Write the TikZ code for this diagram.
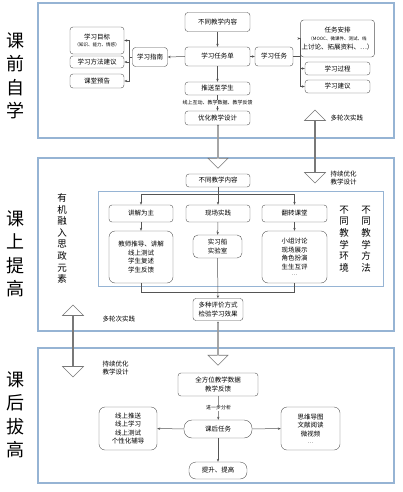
\documentclass[tikz,border=0pt]{standalone}
\usepackage{fontspec}
\setmainfont{Noto Sans CJK SC}
\usetikzlibrary{arrows.meta, positioning, shapes.arrows, calc}
\definecolor{PanelBlue}{RGB}{150, 180, 212}
\definecolor{BoxGray}{RGB}{85, 85, 85}
\definecolor{HollowGray}{RGB}{120, 120, 120}
\tikzset{
  box/.style={rectangle, rounded corners=3pt, draw=BoxGray, fill=white,
              minimum width=#1, minimum height=13pt, inner sep=1pt,
              font=\fontsize{6.5}{8.6}\selectfont, text=black, align=center},
  box/.default=64pt,
  panel/.style={draw=PanelBlue, line width=1.3pt},
  inpanel/.style={draw=PanelBlue, line width=1pt},
  arr/.style={-{Stealth[length=3pt, width=2.4pt]}, line width=0.5pt, color=BoxGray},
  link/.style={line width=0.5pt, color=BoxGray},
  hollow/.style={single arrow, draw=HollowGray, fill=white, line width=0.6pt,
                 minimum width=20pt, single arrow head extend=5pt,
                 single arrow head indent=0pt, inner sep=0pt,
                 shape border rotate=270, minimum height=#1},
  dhollow/.style={double arrow, draw=HollowGray, fill=white, line width=0.6pt,
                  minimum width=21pt, double arrow head extend=5.5pt,
                  inner sep=0pt, shape border rotate=90, minimum height=#1},
  biglabel/.style={font=\fontsize{18}{23.5}\selectfont, align=center, text=black},
  vlabel/.style={font=\fontsize{9.5}{11.6}\selectfont, align=center, text=black},
  note/.style={font=\fontsize{6.5}{8.5}\selectfont, align=center, text=black},
  tinynote/.style={font=\fontsize{5}{6}\selectfont, fill=white, inner sep=0.5pt, text=black},
}
\begin{document}
\begin{tikzpicture}[x=1pt, y=-1pt]
  \useasboundingbox (0,0) rectangle (403,492);

  % Panels
  \draw[panel] (38,3) rectangle (394,138);
  \draw[panel] (38,158) rectangle (394,331);
  \draw[inpanel] (98,191) rectangle (383,286);
  \draw[panel] (38,348) rectangle (394,483);

  % Stage labels
  \node[biglabel] (pre) at (15,76) {课\\前\\自\\学};
  \node[biglabel] (inclass) at (15,254) {课\\上\\提\\高};
  \node[biglabel] (post) at (15,415) {课\\后\\拔\\高};

  % Before class
  \node[box=54pt, minimum height=27pt] (goal) at (97,40.5)
        {学习目标\\[-1pt]\fontsize{4.5}{6}\selectfont （知识、能力、情感）};
  \node[box=54pt, minimum height=12pt] (method) at (97,62) {学习方法建议};
  \node[box=54pt, minimum height=14pt] (preview) at (97,81) {课堂预告};
  \node[box=35pt, minimum height=19pt] (guide) at (150,57) {学习指南};

  \node[box=65pt, minimum height=19pt] (topic) at (217.5,22) {不同教学内容};
  \node[box=65pt, minimum height=19pt] (sheet) at (217.5,56.5) {学习任务单};
  \node[box=65pt, minimum height=13pt] (push) at (217.5,88.5) {推送至学生};
  \node[tinynote] (feed) at (217.5,103) {线上互动、教学数据、教学反馈};
  \node[box=65pt, minimum height=14pt] (design) at (217.5,118) {优化教学设计};

  \node[box=38pt, minimum height=19pt] (task) at (274,56.5) {学习任务};
  \node[box=65pt, minimum height=37pt] (plan) at (337.5,38.5)
        {任务安排\\[-1pt]\fontsize{4.5}{6.5}\selectfont （MOOC、微课件、测试、线\\上讨论、拓展资料、…）};
  \node[box=65pt] (process) at (337.5,68.5) {学习过程};
  \node[box=65pt] (advice) at (337.5,86.5) {学习建议};

  \draw[arr] (guide.west) -- ++(-3.5,0) |- (goal.east);
  \draw[arr] (guide.west) -- ++(-3.5,0) |- (method.east);
  \draw[arr] (guide.west) -- ++(-3.5,0) |- (preview.east);
  \draw[arr] (sheet.west) -- (guide.east);
  \draw[arr] (sheet.east) -- (task.west);
  \draw[arr] (task.east) -- ++(7,0) |- (plan.west);
  \draw[arr] (task.east) -- ++(7,0) |- (process.west);
  \draw[arr] (task.east) -- ++(7,0) |- (advice.west);
  \draw[arr] (topic) -- (sheet);
  \draw[arr] (sheet) -- (push);
  \draw[link] (push) -- (feed);
  \draw[arr] (feed) -- (design);

  % Between before class and in class
  \node[hollow=43pt] (down1) at (218,146.5) {};
  \node[dhollow=73pt] (loop1) at (315,146.5) {};
  \node[note, anchor=west] (rounds1) at (327,118) {多轮次实践};
  \node[note, anchor=west] (optim1) at (327,178) {持续优化\\教学设计};

  % In class
  \node[box=64pt] (topic2) at (218,180.5) {不同教学内容};
  \node[box=64pt, minimum height=17pt] (lecture) at (141,213.5) {讲解为主};
  \node[box=64pt, minimum height=17pt] (field) at (218,213.5) {现场实践};
  \node[box=65pt, minimum height=17pt] (flip) at (294.5,213.5) {翻转课堂};
  \node[box=64pt, minimum height=52pt, rounded corners=6pt] (lecbody) at (141,257)
        {教师推导、讲解\\线上测试\\学生复述\\学生反馈};
  \node[box=49pt, minimum height=23pt, rounded corners=5pt] (fieldbody) at (217.5,246.5)
        {实习船\\实验室};
  \node[box=65pt, minimum height=52pt, rounded corners=6pt] (flipbody) at (294.5,257)
        {小组讨论\\现场展示\\角色扮演\\生生互评\\[-2pt]{\fontsize{5}{5}\selectfont …}};
  \node[box=50pt, minimum height=22pt] (eval) at (218,309.5) {多种评价方式\\检验学习效果};

  \node[vlabel] (ideo) at (62,238.5) {有\\机\\融\\入\\思\\政\\元\\素};
  \node[vlabel] (envs) at (344,239) {不\\同\\教\\学\\环\\境};
  \node[vlabel] (ways) at (366,239) {不\\同\\教\\学\\方\\法};

  \draw[arr] (topic2) -- (field);
  \draw[arr] (topic2.south) -- ++(0,7.5) -| (lecture.north);
  \draw[arr] (topic2.south) -- ++(0,7.5) -| (flip.north);
  \draw[arr] (lecture) -- (lecbody);
  \draw[arr] (field) -- (fieldbody);
  \draw[arr] (flip) -- (flipbody);
  \draw[link] (lecbody.south) -- ++(0,9) -| (flipbody.south);
  \draw[arr] (fieldbody) -- (eval);

  % Between in class and after class
  \node[hollow=43pt] (down2) at (218,343.5) {};
  \node[dhollow=72pt] (loop2) at (73,341) {};
  \node[note, anchor=west] (rounds2) at (99,319) {多轮次实践};
  \node[note, anchor=west] (optim2) at (99,368) {持续优化\\教学设计};

  % After class
  \node[box=80pt, minimum height=23pt] (data) at (218,384.5) {全方位教学数据\\教学反馈};
  \node[tinynote] (deeper) at (218.5,408) {进一步分析};
  \node[box=68pt, minimum height=18pt, rounded corners=8pt] (after) at (218,429) {课后任务};
  \node[box=58pt, minimum height=43pt, rounded corners=6pt] (online) at (128,428.5)
        {线上推送\\线上学习\\线上测试\\个性化辅导};
  \node[box=59pt, minimum height=43pt, rounded corners=6pt] (mind) at (310.5,428.5)
        {思维导图\\文献阅读\\微视频\\[-2pt]{\fontsize{5}{5}\selectfont …}};
  \node[box=58pt, minimum height=17pt, rounded corners=7pt] (lift) at (218,470.5) {提升、提高};

  \draw[link] (data) -- (deeper);
  \draw[arr] (deeper) -- (after);
  \draw[arr] (after) -- (online);
  \draw[arr] (after) -- (mind);
  \draw[arr] (after) -- (lift);
\end{tikzpicture}
\end{document}
